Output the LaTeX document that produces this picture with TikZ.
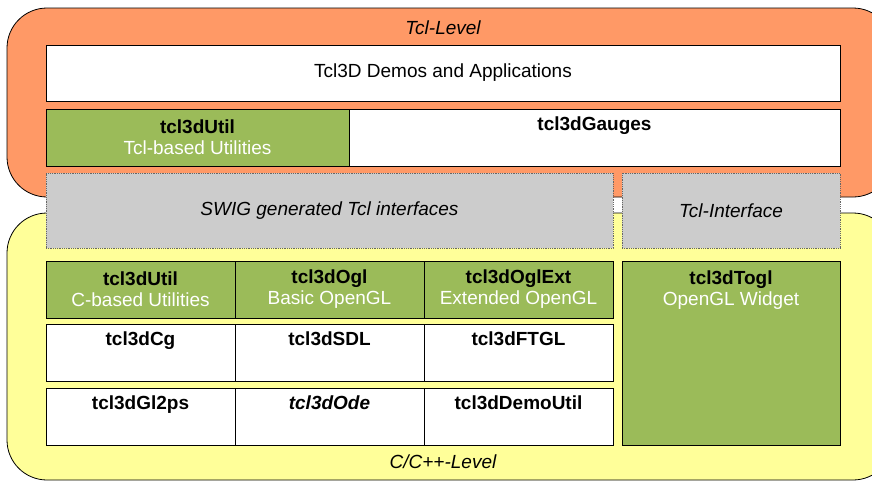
\documentclass[tikz,border=0pt]{standalone}
\usepackage{fontspec}
\setmainfont{Liberation Sans}
\usetikzlibrary{positioning}

\definecolor{tclorange}{HTML}{FF9966}
\definecolor{cyellow}{HTML}{FFFF99}
\definecolor{modgreen}{HTML}{9BBB59}
\definecolor{ifgray}{HTML}{CCCCCC}

\begin{document}
\begin{tikzpicture}[x=1pt,y=-1pt,node distance=0pt,
			font=\fontsize{19}{21}\selectfont,
			level/.style={draw=black, line width=0.8pt, rounded corners=40pt},
			box/.style={rectangle, draw=black, line width=0.8pt, outer sep=0pt, inner sep=0pt, align=center, minimum height=57pt, anchor=north west},
			module/.style={box, fill=modgreen, minimum width=189pt},
			extra/.style={box, fill=white, minimum width=189pt},
			iface/.style={box, draw=black!60, densely dotted, fill=ifgray, minimum height=75pt, font=\fontsize{19}{21}\selectfont\itshape}
		]
			\useasboundingbox (0,0) rectangle (872,482);
			
			% the two levels
			\draw[level, fill=tclorange] (7,8) rectangle (893,197);
			\draw[level, fill=cyellow] (7,213) rectangle (893,480);
			\node (tcl_lvl) at (443,28) {\itshape Tcl-Level};
			\node (c_lvl) at (443,462) {\itshape C/C++-Level};
			
			% Tcl level
			\node[box, fill=white, minimum width=794pt, minimum height=56pt] (demos) at (46,45) {Tcl3D Demos and Applications};
			\node[box, fill=modgreen, minimum width=303pt] (tutil) at (46,109) {\textbf{tcl3dUtil}\\\color{white}Tcl-based Utilities};
			\node[box, fill=white, minimum width=491pt] (gauges) [right=of tutil] {\textbf{tcl3dGauges}\\\strut};
			
			% interfaces
			\node[iface, minimum width=567pt] (swig) at (46,173) {SWIG generated Tcl interfaces};
			\node[iface, minimum width=218pt] (tclif) at (622,173) {Tcl-Interface};
			
			% C level
			\node[module] (cutil) at (46,261) {\textbf{tcl3dUtil}\\\color{white}C-based Utilities};
			\node[module] (ogl) [right=of cutil] {\textbf{tcl3dOgl}\\\color{white}Basic OpenGL};
			\node[module] (oglext) [right=of ogl] {\textbf{tcl3dOglExt}\\\color{white}Extended OpenGL};
			
			\node[extra] (cg) at (46,324) {\textbf{tcl3dCg}\\\strut};
			\node[extra] (sdl) [right=of cg] {\textbf{tcl3dSDL}\\\strut};
			\node[extra] (ftgl) [right=of sdl] {\textbf{tcl3dFTGL}\\\strut};
			
			\node[extra] (gl2ps) at (46,388) {\textbf{tcl3dGl2ps}\\\strut};
			\node[extra] (ode) [right=of gl2ps] {\textbf{\itshape tcl3dOde}\\\strut};
			\node[extra] (demoutil) [right=of ode] {\textbf{tcl3dDemoUtil}\\\strut};
			
			\node[box, fill=modgreen, minimum width=218pt, minimum height=184pt] (togl) at (622,261) {};
			\node[anchor=north, align=center, minimum height=57pt, inner sep=0pt] (togl_txt) at (togl.north) {\textbf{tcl3dTogl}\\\color{white}OpenGL Widget};
		\end{tikzpicture}
\end{document}
